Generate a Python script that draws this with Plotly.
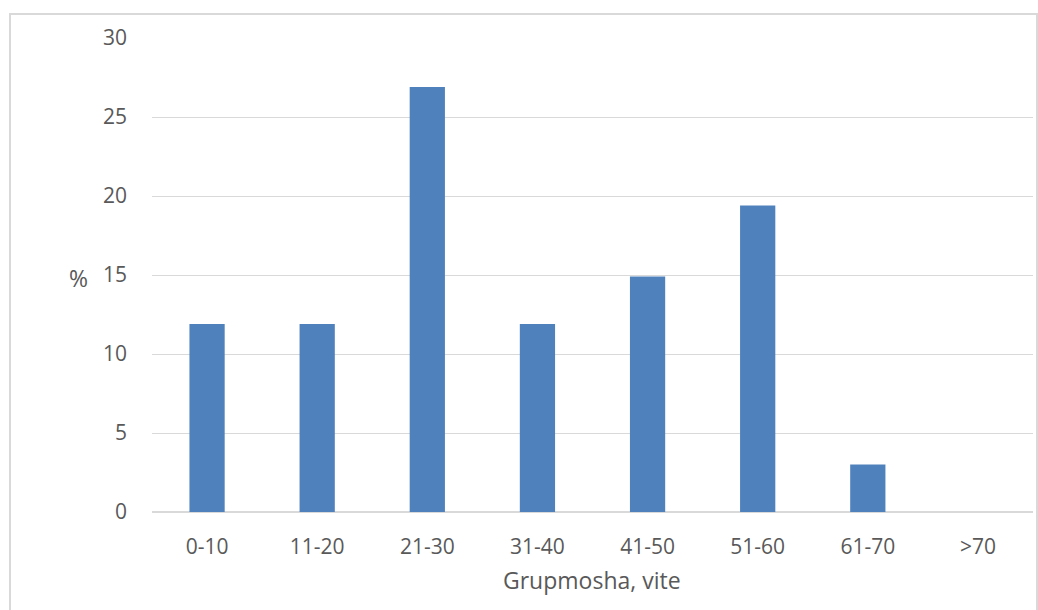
import plotly.graph_objects as go

categories = ["0-10", "11-20", "21-30", "31-40", "41-50", "51-60", "61-70", ">70"]
values = [11.9, 11.9, 26.9, 11.9, 14.9, 19.4, 3.0, 0]
y_ticks = [0, 5, 10, 15, 20, 25, 30]

W, H = 1038, 610
L, R, T, B = 152, 1033, 38, 512
pw, ph = R - L, B - T

def px(x):
    return (x - L) / pw

def py(y):
    return (B - y) / ph

fig = go.Figure()
fig.add_trace(go.Bar(x=categories, y=values, marker=dict(color="#4f81bd", line=dict(width=0)), width=0.32))

font = dict(family="Open Sans, Liberation Sans, sans-serif", size=21, color="#595959")
title_font = dict(family="Open Sans, Liberation Sans, sans-serif", size=23, color="#595959")

fig.update_layout(
    width=W, height=H,
    margin=dict(l=L, r=W - R, t=T, b=H - B, pad=0),
    paper_bgcolor="white", plot_bgcolor="white",
    showlegend=False,
    font=font,
    xaxis=dict(showgrid=False, showline=False, ticks="", ticklabelstandoff=20,
               tickfont=font, range=[-0.5, 7.5]),
    yaxis=dict(range=[0, 30], tickvals=y_ticks, showgrid=True, gridcolor="#d9d9d9", gridwidth=1,
               zeroline=True, zerolinecolor="#d9d9d9", zerolinewidth=1.5,
               showline=False, ticks="", ticklabelstandoff=24, tickfont=font),
    shapes=[dict(type="rect", xref="paper", yref="paper",
                 x0=px(10), x1=px(1037), y0=py(640), y1=py(14),
                 line=dict(color="#d9d9d9", width=2), layer="below")],
    annotations=[
        dict(text="%", xref="paper", yref="paper", x=px(78), y=py(278), showarrow=False,
             font=title_font, xanchor="center", yanchor="middle"),
        dict(text="Grupmosha, vite", xref="paper", yref="paper", x=px(592), y=py(580), showarrow=False,
             font=title_font, xanchor="center", yanchor="middle"),
    ],
)

fig.write_html("out.html")
